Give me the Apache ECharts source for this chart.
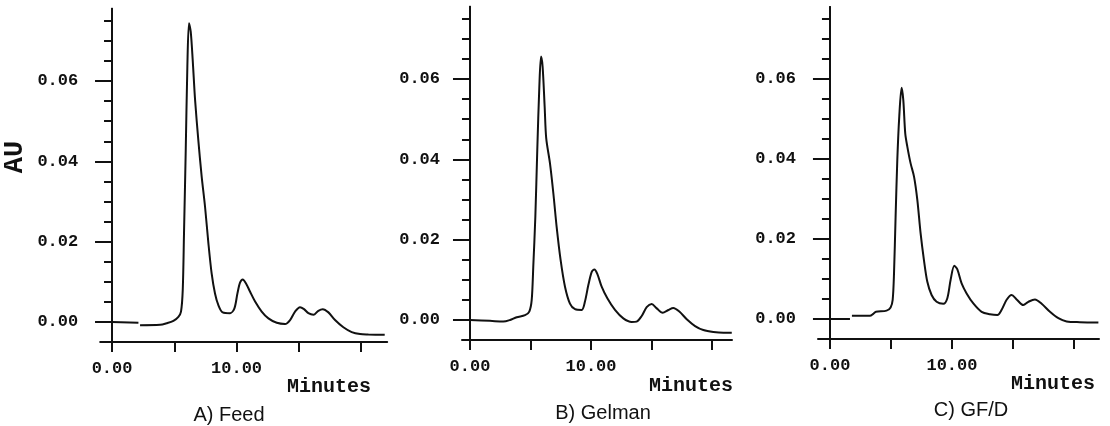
<!DOCTYPE html>
<html><head><meta charset="utf-8">
<script src="https://cdn.jsdelivr.net/npm/echarts@6/dist/echarts.min.js"></script>
<style>html,body{margin:0;padding:0;background:#fff}#c{width:1110px;height:426px}</style>
</head><body><div id="c"></div>
<script>
// ---- data (time in minutes, absorbance in AU) ----
const feedMinutes = [0, 2.12, 2.18, 2.25, 3.86, 4.39, 4.93, 5.33, 5.54, 5.68, 5.78, 5.92, 6.05, 6.18, 6.32, 6.48, 6.67, 6.93, 7.2, 7.47, 7.74, 8.0, 8.27, 8.54, 8.89, 9.48, 9.83, 10.07, 10.28, 10.5, 10.76, 11.08, 11.49, 12.02, 12.56, 13.23, 13.9, 14.3, 14.7, 15.1, 15.42, 15.77, 16.17, 16.57, 16.92, 17.38, 17.91, 18.58, 19.25, 19.92, 20.59, 21.9];
const feedAU = [0, -0.0002, null, -0.0008, -0.0007, -0.0003, 0.0003, 0.0013, 0.0026, 0.008, 0.022, 0.0428, 0.0636, 0.0744, 0.0723, 0.0652, 0.0553, 0.0453, 0.0362, 0.0287, 0.0196, 0.0121, 0.0071, 0.0042, 0.0024, 0.0022, 0.0034, 0.0071, 0.0098, 0.0106, 0.0096, 0.0076, 0.0051, 0.0026, 0.0009, -0.0002, -0.0005, 0.0005, 0.0026, 0.0037, 0.0032, 0.0022, 0.0018, 0.0028, 0.0032, 0.0024, 0.0005, -0.0013, -0.0025, -0.003, -0.0031, -0.0032];

const gelmanMinutes = [0, 1.65, 2.75, 3.31, 3.86, 4.55, 4.9, 5.1, 5.23, 5.4, 5.56, 5.73, 5.87, 6.0, 6.17, 6.3, 6.61, 6.89, 7.16, 7.49, 7.85, 8.26, 8.68, 9.23, 9.5, 9.78, 10.06, 10.28, 10.52, 10.88, 11.35, 11.98, 12.67, 13.36, 13.77, 14.19, 14.6, 15.01, 15.43, 15.92, 16.39, 16.8, 17.3, 17.91, 18.6, 19.28, 20.11, 20.94, 21.63];
const gelmanAU = [0, -0.0002, -0.0004, 0, 0.0007, 0.0012, 0.0021, 0.005, 0.0133, 0.0257, 0.0423, 0.0581, 0.0656, 0.0631, 0.0531, 0.0452, 0.039, 0.0315, 0.0232, 0.0149, 0.0083, 0.0041, 0.0027, 0.0025, 0.0046, 0.0087, 0.012, 0.0126, 0.0115, 0.0083, 0.0054, 0.0025, 0.0004, -0.0005, -0.0004, 0.001, 0.0032, 0.004, 0.0029, 0.0018, 0.0025, 0.003, 0.0021, 0.0002, -0.0015, -0.0025, -0.003, -0.0032, -0.0032];

const gfdMinutes = [0, 1.64, 1.72, 1.8, 3.28, 3.55, 3.77, 4.64, 4.97, 5.14, 5.25, 5.38, 5.52, 5.68, 5.87, 6.01, 6.17, 6.34, 6.61, 6.89, 7.16, 7.43, 7.7, 7.98, 8.33, 8.74, 9.29, 9.62, 9.89, 10.19, 10.44, 10.79, 11.2, 11.75, 12.43, 13.11, 13.72, 14.07, 14.48, 14.89, 15.3, 15.85, 16.26, 16.8, 17.35, 18.03, 18.72, 19.4, 20.49, 22.0];
const gfdAU = [0, 0, null, 0.0008, 0.0008, 0.0013, 0.0018, 0.0021, 0.0029, 0.0048, 0.0114, 0.0256, 0.0398, 0.0506, 0.0578, 0.0548, 0.0464, 0.0431, 0.0389, 0.0356, 0.0298, 0.0214, 0.0148, 0.0093, 0.006, 0.0043, 0.0038, 0.0052, 0.0098, 0.0133, 0.0124, 0.0089, 0.0064, 0.0039, 0.0018, 0.0012, 0.001, 0.0023, 0.0048, 0.006, 0.0049, 0.0035, 0.0043, 0.0049, 0.0038, 0.0018, 0.0002, -0.0006, -0.0008, -0.0009];

const panelTitles = ['A) Feed', 'B) Gelman', 'C) GF/D'];
const xAxisName = 'Minutes';
const yAxisName = 'AU';
const minuteTicks = [0, 5, 10, 15, 20];
const minuteLabels = [0, 10];
const majorTicksAU = [0, 0.02, 0.04, 0.06];
const minorTicksAU = [0.005, 0.01, 0.015, 0.025, 0.03, 0.035, 0.045, 0.05, 0.055, 0.065, 0.07, 0.075];

// ---- layout (pixels) ----
const panels = [
  {left: 100.2, width: 287, top: 8.7, height: 333.4, xmin: -0.95, xmax: 22.1, titleX: 229, titleTop: 405, nameRight: 371, nameTop: 377},
  {left: 462, width: 270, top: 6.7, height: 333.4, xmin: -0.66, xmax: 21.65, titleX: 603, titleTop: 403, nameRight: 733, nameTop: 376},
  {left: 818, width: 281, top: 7, height: 332, xmin: -0.98, xmax: 22.05, titleX: 971, titleTop: 400, nameRight: 1095, nameTop: 374}
];
const seriesSets = [[feedMinutes, feedAU], [gelmanMinutes, gelmanAU], [gfdMinutes, gfdAU]];

const mono = 'Liberation Mono';
const ink = '#111';
const fmt2 = v => Number(v).toFixed(2);

const grid = [], xAxis = [], yAxis = [], series = [], title = [];
panels.forEach((p, i) => {
  grid.push({left: p.left, top: p.top, width: p.width, height: p.height, containLabel: false, outerBoundsMode: 'none'});
  xAxis.push({
    gridIndex: i, type: 'value', min: p.xmin, max: p.xmax,
    axisLine: {show: true, onZero: false, lineStyle: {color: ink, width: 2}},
    axisTick: {show: true, customValues: minuteTicks, length: 10, inside: false, lineStyle: {color: ink, width: 2}},
    axisLabel: {show: true, customValues: minuteLabels, formatter: fmt2, fontFamily: mono, fontWeight: 'bold', fontSize: 17, color: ink, margin: 18},
    splitLine: {show: false}
  });
  yAxis.push({
    gridIndex: i, type: 'value', min: -0.005, max: 0.078, position: 'left',
    axisLine: {show: true, onZero: true, onZeroAxisIndex: i, lineStyle: {color: ink, width: 2}},
    axisTick: {show: true, customValues: majorTicksAU, length: 17, lineStyle: {color: ink, width: 2}},
    axisLabel: {show: true, customValues: majorTicksAU, formatter: fmt2, fontFamily: mono, fontWeight: 'bold', fontSize: 17, color: ink, margin: 22},
    splitLine: {show: false}
  });
  yAxis.push({
    gridIndex: i, type: 'value', min: -0.005, max: 0.078, position: 'left',
    axisLine: {show: true, onZero: true, onZeroAxisIndex: i, lineStyle: {color: ink, width: 2}},
    axisTick: {show: true, customValues: minorTicksAU, length: 8, lineStyle: {color: ink, width: 2}},
    axisLabel: {show: false},
    splitLine: {show: false}
  });
  const [ts, vs] = seriesSets[i];
  series.push({
    type: 'line', xAxisIndex: i, yAxisIndex: 2 * i,
    data: ts.map((t, k) => [t, vs[k] === null ? '-' : vs[k]]),
    showSymbol: false, symbol: 'none', smooth: 0.3, connectNulls: false,
    lineStyle: {color: ink, width: 2}, silent: true, animation: false
  });
  title.push({text: panelTitles[i], left: p.titleX, top: p.titleTop, textAlign: 'center', padding: 0,
    textStyle: {fontFamily: 'Liberation Sans', fontWeight: 'normal', fontSize: 20, color: ink}});
  title.push({text: xAxisName, left: p.nameRight, top: p.nameTop, textAlign: 'right', padding: 0,
    textStyle: {fontFamily: mono, fontWeight: 'bold', fontSize: 20, color: ink}});
});

const chart = echarts.init(document.getElementById('c'), null, {renderer: 'canvas'});
chart.setOption({
  backgroundColor: '#fff', animation: false,
  title, grid, xAxis, yAxis, series,
  graphic: [{type: 'text', x: 15, y: 157, rotation: Math.PI / 2,
    style: {text: yAxisName, fontFamily: mono, fontWeight: 'bold', fontSize: 27, fill: ink, align: 'center', verticalAlign: 'middle'}}]
});
</script></body></html>
